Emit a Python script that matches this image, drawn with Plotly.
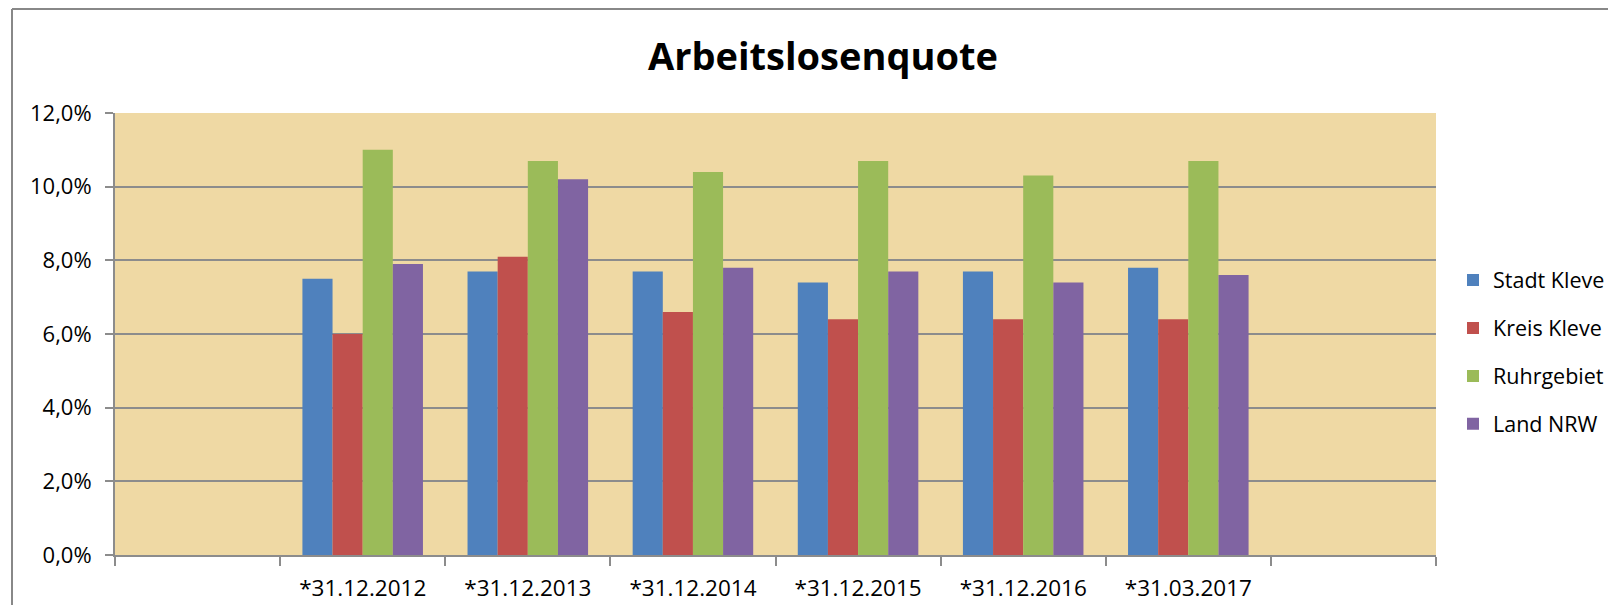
import plotly.graph_objects as go

categories = [" ", "*31.12.2012", "*31.12.2013", "*31.12.2014", "*31.12.2015", "*31.12.2016", "*31.03.2017", "  "]
dates = ["*31.12.2012", "*31.12.2013", "*31.12.2014", "*31.12.2015", "*31.12.2016", "*31.03.2017"]

stadt_kleve = [7.5, 7.7, 7.7, 7.4, 7.7, 7.8]
kreis_kleve = [6.0, 8.1, 6.6, 6.4, 6.4, 6.4]
ruhrgebiet = [11.0, 10.7, 10.4, 10.7, 10.3, 10.7]
land_nrw = [7.9, 10.2, 7.8, 7.7, 7.4, 7.6]

series_names = ["Stadt Kleve", "Kreis Kleve", "Ruhrgebiet", "Land NRW"]
series_values = [stadt_kleve, kreis_kleve, ruhrgebiet, land_nrw]
colors = ["#4F81BD", "#C0504D", "#9BBB59", "#8064A2"]

y_ticks = [0, 2, 4, 6, 8, 10, 12]
y_tick_labels = ["0,0%", "2,0%", "4,0%", "6,0%", "8,0%", "10,0%", "12,0%"]

FONT = "Open Sans"
FS = 22.5

fig = go.Figure()
for name, vals, col in zip(series_names, series_values, colors):
    fig.add_trace(go.Bar(
        x=dates, y=vals, name=name, legendgroup=name,
        marker=dict(color=col, line=dict(width=0)),
    ))

# page body has an 8px margin; size the figure to fit inside the window
OFF = 8
W, H = 1600, 597
L, T = 115 - OFF, 113 - OFF
pw, ph = 1321, 442
R = W - L - pw
B = H - T - ph

def px_x(p):
    return (p - OFF - L) / pw

def px_y(p):
    return (T + ph - (p - OFF)) / ph

fig.update_layout(
    width=W, height=H,
    margin=dict(l=L, r=R, t=T, b=B, pad=0, autoexpand=False),
    paper_bgcolor="white",
    plot_bgcolor="#EFD9A4",
    barmode="group",
    bargap=0.27,
    bargroupgap=0,
    font=dict(family=FONT, color="black", size=FS),
    title=dict(
        text="<b>Arbeitslosenquote</b>",
        font=dict(family=FONT, size=38, color="black"),
        xref="container", yref="container",
        x=(823 - OFF) / W, xanchor="center",
        y=1 - (57 - OFF) / H, yanchor="middle",
    ),
    legend=dict(
        x=px_x(1453), xanchor="left",
        y=px_y(352), yanchor="middle",
        font=dict(family=FONT, size=21.5, color="black"),
        bgcolor="rgba(0,0,0,0)",
        tracegroupgap=17,
        itemwidth=30,
    ),
    xaxis=dict(
        type="category",
        categoryorder="array", categoryarray=categories,
        range=[-0.5, len(categories) - 0.5],
        tickson="boundaries",
        ticks="outside", ticklen=9, tickwidth=2, tickcolor="#8c8c8c",
        ticklabelstandoff=12,
        showline=True, linecolor="#8c8c8c", linewidth=2,
        showgrid=False,
        tickfont=dict(family=FONT, size=FS, color="black"),
        fixedrange=True,
        automargin=False,
    ),
    yaxis=dict(
        range=[0, 12],
        tickvals=y_ticks,
        ticktext=y_tick_labels,
        ticks="outside", ticklen=8, tickwidth=2, tickcolor="#8c8c8c",
        ticklabelstandoff=9,
        showline=True, linecolor="#8c8c8c", linewidth=2,
        showgrid=True, gridcolor="#8c8c8c", gridwidth=1.5,
        zeroline=False,
        tickfont=dict(family=FONT, size=22, color="black"),
        fixedrange=True,
        automargin=False,
    ),
    shapes=[
        dict(type="line", xref="paper", yref="paper",
             x0=px_x(12), x1=px_x(12), y0=px_y(9), y1=px_y(H + 40),
             line=dict(color="#888888", width=2)),
        dict(type="line", xref="paper", yref="paper",
             x0=px_x(12), x1=px_x(W + 60), y0=px_y(9), y1=px_y(9),
             line=dict(color="#888888", width=2)),
    ],
)

fig.write_html("out.html")
